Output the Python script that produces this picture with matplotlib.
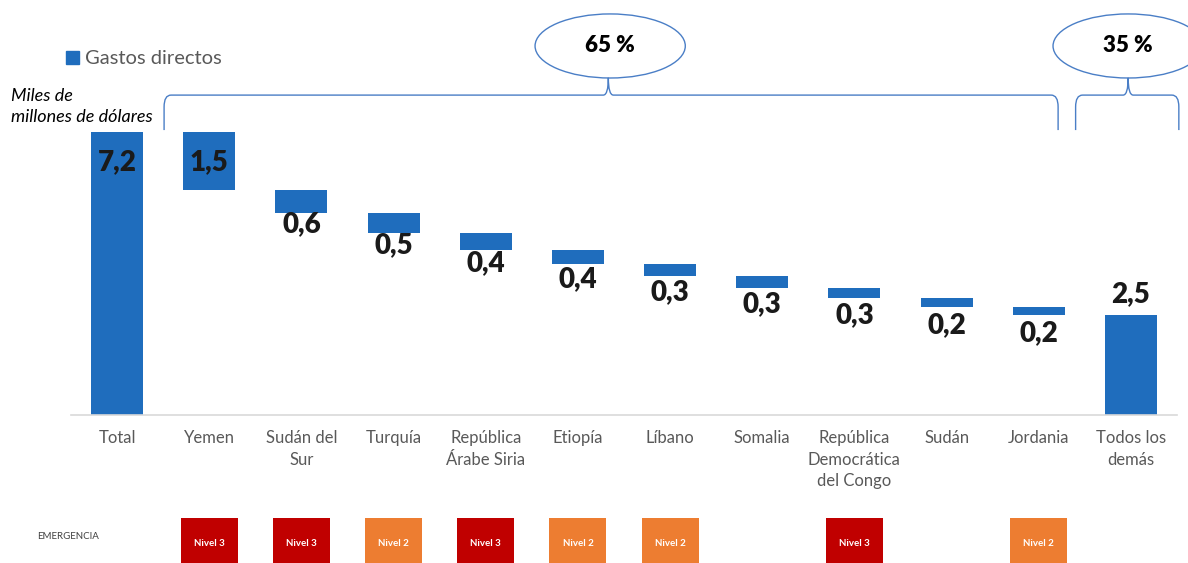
import matplotlib.pyplot as plt
from matplotlib.patches import Ellipse, Patch, PathPatch
from matplotlib.path import Path

categories = ["Total", "Yemen", "Sudán del\nSur", "Turquía", "República\nÁrabe Siria", "Etiopía", "Líbano",
              "Somalia", "República\nDemocrática\ndel Congo", "Sudán", "Jordania", "Todos los\ndemás"]
total = 7.2
country_values = [1.48, 0.59, 0.50, 0.43, 0.36, 0.31, 0.30, 0.26, 0.23, 0.20]
others = total - sum(country_values)
emergency = [None, 3, 3, 2, 3, 2, 2, None, 3, None, 2, None]
share_labels = ["65 %", "35 %"]

blue = "#1F6DBD"
line_blue = "#4A7EC6"
level_colors = {3: "#C00000", 2: "#ED7D31"}

plt.rcParams["font.family"] = ["Lato", "DejaVu Sans"]

fig = plt.figure(figsize=(11.88, 5.63), dpi=100)
ax = fig.add_axes([71 / 1188, 148 / 563, 1106 / 1188, 294.75 / 563])

# waterfall bottoms / heights
heights = [total]
bottoms = [0]
level = total
for v in country_values:
    level -= v
    heights.append(v)
    bottoms.append(level)
heights.append(others)
bottoms.append(0)

x = list(range(len(categories)))
ax.bar(x, heights, bottom=bottoms, width=0.564, color=blue, zorder=2)


def fmt(v):
    return f"{v:.1f}".replace(".", ",")


lab_kw = dict(textcoords="offset points", ha="center", fontsize=20, fontweight="heavy", color="#1A1A1A", zorder=3)
for i, (h, b) in enumerate(zip(heights, bottoms)):
    if i == len(heights) - 1:
        ax.annotate(fmt(h), (i, b + h), xytext=(0, 6), va="bottom", **lab_kw)
    elif h > 1:
        ax.annotate(fmt(h), (i, b + h), xytext=(0, -22), va="center", **lab_kw)
    else:
        ax.annotate(fmt(h), (i, b + h / 2), xytext=(0, -6.5), va="top", **lab_kw)

ax.set_xlim(-0.5, 11.5)
ax.set_ylim(0, 7.5)
ax.set_xticks(x)
ax.set_xticklabels(categories, fontsize=12, color="#595959", linespacing=1.42)
ax.tick_params(axis="x", length=0, pad=11)
ax.set_yticks([])
for s in ["top", "left", "right"]:
    ax.spines[s].set_visible(False)
ax.spines["bottom"].set_color("#D9D9D9")
ax.spines["bottom"].set_linewidth(1.2)

# emergency level boxes
for i, lv in enumerate(emergency):
    if lv is None:
        continue
    ax.bar(i, 1.17, bottom=-3.8, width=0.62, color=level_colors[lv], clip_on=False)
    ax.text(i, -3.27, f"Nivel {lv}", ha="center", va="center", fontsize=7,
            fontweight="bold", color="white", clip_on=False)
ax.text(-0.53, -3.1, "EMERGENCIA", ha="center", va="center", fontsize=7, color="#404040", clip_on=False)


def brace(x0, x1, xp, yb=7.25, yh=8.14, yp=8.58):
    dx, dp, dy = 0.075, 0.055, 0.3
    verts = [(x0, yb), (x0, yh - dy), (x0, yh), (x0 + dx, yh),
             (xp - dp, yh), (xp, yh), (xp, yp),
             (xp, yh), (xp + dp, yh),
             (x1 - dx, yh), (x1, yh), (x1, yh - dy), (x1, yb)]
    codes = [Path.MOVETO, Path.LINETO, Path.CURVE3, Path.CURVE3,
             Path.LINETO, Path.CURVE3, Path.CURVE3,
             Path.CURVE3, Path.CURVE3,
             Path.LINETO, Path.CURVE3, Path.CURVE3, Path.LINETO]
    ax.add_patch(PathPatch(Path(verts, codes), fill=False, edgecolor=line_blue, lw=1.0, clip_on=False))


brace(0.51, 10.21, 5.33)
brace(10.40, 11.52, 10.97)

for cx, lab in zip([5.35, 10.97], share_labels):
    ax.add_patch(Ellipse((cx, 9.39), 1.63, 1.63, fill=False, edgecolor=line_blue, lw=1.0, clip_on=False))
    ax.text(cx, 9.39, lab, ha="center", va="center", fontsize=16, fontweight="heavy", color="black")

ax.text(-1.15, 7.86, "Miles de\nmillones de dólares", ha="left", va="center", fontsize=13,
        style="italic", color="black", linespacing=1.4, clip_on=False)

ax.legend(handles=[Patch(color=blue)], labels=["Gastos directos"], loc="center left",
          bbox_to_anchor=(66 / 1188, 1 - 59 / 563), bbox_transform=fig.transFigure,
          frameon=False, fontsize=14.5, handlelength=0.65, handleheight=0.65,
          handletextpad=0.3, borderpad=0, borderaxespad=0, labelcolor="#595959")

fig.savefig("out.png", dpi=100)
